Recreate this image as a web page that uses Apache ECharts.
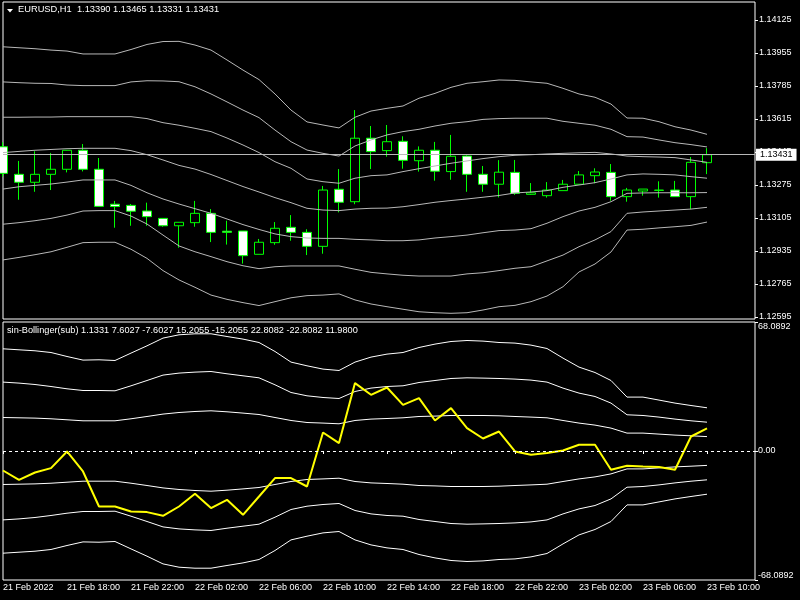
<!DOCTYPE html>
<html><head><meta charset="utf-8">
<script src="https://cdn.jsdelivr.net/npm/echarts@6/dist/echarts.min.js"></script>
<style>html,body{margin:0;padding:0;background:#000}#c{width:800px;height:600px}</style>
</head><body><div id="c"></div>
<script>
const categories = [
 '21 Feb 14:00','21 Feb 15:00','21 Feb 16:00','21 Feb 17:00','21 Feb 18:00','21 Feb 19:00','21 Feb 20:00','21 Feb 21:00','21 Feb 22:00','21 Feb 23:00',
 '22 Feb 00:00','22 Feb 01:00','22 Feb 02:00','22 Feb 03:00','22 Feb 04:00','22 Feb 05:00','22 Feb 06:00','22 Feb 07:00','22 Feb 08:00','22 Feb 09:00',
 '22 Feb 10:00','22 Feb 11:00','22 Feb 12:00','22 Feb 13:00','22 Feb 14:00','22 Feb 15:00','22 Feb 16:00','22 Feb 17:00','22 Feb 18:00','22 Feb 19:00',
 '22 Feb 20:00','22 Feb 21:00','22 Feb 22:00','22 Feb 23:00','23 Feb 00:00','23 Feb 01:00','23 Feb 02:00','23 Feb 03:00','23 Feb 04:00','23 Feb 05:00',
 '23 Feb 06:00','23 Feb 07:00','23 Feb 08:00','23 Feb 09:00','23 Feb 10:00','23 Feb 11:00','23 Feb 12:00','23 Feb 13:00'];
const firstTickLabel = '21 Feb 2022';

const opens  = [1.13472,1.13330,1.13289,1.13330,1.13356,1.13454,1.13356,1.13176,1.13170,1.13141,1.13103,1.13065,1.13081,1.13129,1.13037,1.13038,1.12918,1.12978,1.13057,1.13031,1.12959,1.13253,1.13189,1.13516,1.13452,1.13500,1.13400,1.13454,1.13344,1.13424,1.13330,1.13279,1.13340,1.13227,1.13220,1.13246,1.13279,1.13323,1.13340,1.13215,1.13244,1.13247,1.13249,1.13215,1.13390];
const closes = [1.13335,1.13289,1.13330,1.13356,1.13454,1.13356,1.13165,1.13164,1.13140,1.13112,1.13065,1.13083,1.13129,1.13031,1.13031,1.12911,1.12980,1.13052,1.13031,1.12959,1.13249,1.13186,1.13516,1.13447,1.13498,1.13402,1.13454,1.13346,1.13423,1.13330,1.13279,1.13341,1.13232,1.13235,1.13249,1.13279,1.13327,1.13342,1.13215,1.13249,1.13254,1.13249,1.13215,1.13392,1.13431];
const lows   = [1.13318,1.13199,1.13240,1.13249,1.13340,1.13345,1.13164,1.13055,1.13065,1.13065,1.13060,1.12952,1.13060,1.12981,1.12968,1.12870,1.12918,1.12967,1.12988,1.12914,1.12921,1.13134,1.13176,1.13357,1.13421,1.13359,1.13344,1.13297,1.13302,1.13240,1.13240,1.13211,1.13224,1.13224,1.13210,1.13246,1.13279,1.13284,1.13194,1.13189,1.13220,1.13210,1.13215,1.13151,1.13331];
const highs  = [1.13495,1.13399,1.13449,1.13440,1.13455,1.13486,1.13414,1.13193,1.13177,1.13184,1.13105,1.13084,1.13193,1.13151,1.13091,1.13038,1.12997,1.13084,1.13120,1.13047,1.13270,1.13357,1.13661,1.13579,1.13584,1.13526,1.13474,1.13497,1.13533,1.13428,1.13373,1.13403,1.13404,1.13285,1.13290,1.13301,1.13347,1.13361,1.13383,1.13260,1.13254,1.13294,1.13296,1.13419,1.13465];

const bbUpper3 = [1.13987,1.13982,1.13977,1.13970,1.13965,1.13950,1.13950,1.13950,1.13973,1.13999,1.14014,1.14015,1.13996,1.13970,1.13919,1.13867,1.13818,1.13744,1.13661,1.13600,1.13584,1.13569,1.13624,1.13656,1.13670,1.13682,1.13722,1.13747,1.13778,1.13799,1.13807,1.13816,1.13814,1.13806,1.13799,1.13773,1.13744,1.13727,1.13692,1.13620,1.13619,1.13601,1.13575,1.13558,1.13536];
const bbUpper2 = [1.13806,1.13802,1.13799,1.13798,1.13790,1.13787,1.13787,1.13787,1.13806,1.13812,1.13811,1.13807,1.13781,1.13744,1.13703,1.13661,1.13622,1.13558,1.13498,1.13455,1.13438,1.13424,1.13476,1.13507,1.13533,1.13550,1.13562,1.13579,1.13593,1.13601,1.13613,1.13617,1.13619,1.13619,1.13619,1.13603,1.13593,1.13583,1.13562,1.13524,1.13522,1.13507,1.13493,1.13483,1.13471];
const bbUpper1 = [1.13624,1.13624,1.13625,1.13625,1.13627,1.13627,1.13627,1.13627,1.13627,1.13617,1.13596,1.13583,1.13567,1.13550,1.13517,1.13481,1.13442,1.13395,1.13361,1.13306,1.13292,1.13284,1.13310,1.13323,1.13327,1.13344,1.13359,1.13373,1.13387,1.13399,1.13411,1.13421,1.13428,1.13431,1.13435,1.13438,1.13441,1.13443,1.13435,1.13424,1.13421,1.13419,1.13416,1.13404,1.13392];
const bbMid    = [1.13442,1.13448,1.13454,1.13458,1.13462,1.13464,1.13464,1.13464,1.13452,1.13431,1.13404,1.13376,1.13357,1.13329,1.13298,1.13267,1.13239,1.13210,1.13184,1.13155,1.13146,1.13143,1.13151,1.13155,1.13156,1.13163,1.13174,1.13186,1.13195,1.13203,1.13212,1.13221,1.13234,1.13239,1.13246,1.13263,1.13275,1.13287,1.13306,1.13327,1.13332,1.13330,1.13327,1.13318,1.13310];
const bbLower1 = [1.13254,1.13266,1.13273,1.13280,1.13290,1.13301,1.13301,1.13301,1.13273,1.13235,1.13203,1.13177,1.13153,1.13129,1.13100,1.13071,1.13046,1.13023,1.13009,1.13002,1.13000,1.13000,1.12995,1.12992,1.12988,1.12988,1.12992,1.13002,1.13009,1.13017,1.13029,1.13040,1.13043,1.13050,1.13078,1.13112,1.13141,1.13160,1.13189,1.13232,1.13234,1.13235,1.13235,1.13235,1.13236];
const bbLower2 = [1.13073,1.13081,1.13091,1.13103,1.13120,1.13141,1.13143,1.13143,1.13115,1.13074,1.13017,1.12961,1.12931,1.12906,1.12880,1.12859,1.12844,1.12854,1.12858,1.12858,1.12858,1.12858,1.12841,1.12825,1.12817,1.12810,1.12806,1.12806,1.12806,1.12817,1.12823,1.12834,1.12846,1.12854,1.12884,1.12914,1.12957,1.12992,1.13035,1.13129,1.13136,1.13141,1.13146,1.13151,1.13160];
const bbLower3 = [1.12889,1.12902,1.12916,1.12931,1.12954,1.12978,1.12980,1.12980,1.12944,1.12897,1.12834,1.12786,1.12748,1.12708,1.12686,1.12669,1.12654,1.12674,1.12694,1.12705,1.12708,1.12714,1.12683,1.12662,1.12648,1.12635,1.12622,1.12617,1.12614,1.12617,1.12631,1.12648,1.12655,1.12674,1.12703,1.12751,1.12827,1.12868,1.12930,1.13043,1.13047,1.13054,1.13060,1.13067,1.13084];

const subUpper3 = [53.94,53.41,52.89,51.99,49.88,47.98,48.14,47.77,51.67,55.52,59.59,61.33,61.86,61.86,60.43,59.06,57.27,52.52,46.92,44.97,43.23,42.49,46.92,49.56,51.14,51.99,54.63,56.42,57.79,58.32,58.01,57.27,56.95,55.89,54.10,49.03,44.28,41.43,37.21,28.45,28.45,26.87,25.28,24.01,22.81];
const subUpper2 = [36.37,35.84,35.10,34.04,32.83,31.93,31.93,31.77,34.41,37.21,40.06,41.12,41.64,41.96,40.75,39.69,38.63,34.94,30.88,29.13,28.24,27.71,31.40,33.20,34.04,34.41,36.15,37.21,38.27,38.63,38.48,38.27,37.95,37.42,36.37,33.20,30.56,28.77,25.28,19.11,18.74,17.89,16.84,15.94,15.21];
const subUpper1 = [17.68,17.52,17.36,17.00,16.47,15.94,15.94,15.94,17.00,18.21,19.48,20.32,20.85,21.22,20.69,20.00,19.26,17.68,16.10,15.04,14.73,14.36,16.10,16.84,17.15,17.52,18.21,18.42,18.74,18.74,18.74,18.58,18.21,17.89,17.52,16.10,14.73,13.67,12.09,9.45,9.45,8.92,8.39,8.02,7.60];
const subLower1 = [-17.68,-17.52,-17.36,-17.00,-16.47,-15.94,-15.94,-15.94,-17.00,-18.21,-19.48,-20.32,-20.85,-21.22,-20.69,-20.00,-19.26,-17.68,-16.10,-15.04,-14.73,-14.36,-16.10,-16.84,-17.15,-17.52,-18.21,-18.42,-18.74,-18.74,-18.74,-18.58,-18.21,-17.89,-17.52,-16.10,-14.73,-13.67,-12.09,-9.45,-9.45,-8.92,-8.39,-8.02,-7.60];
const subLower2 = [-36.37,-35.84,-35.10,-34.04,-32.83,-31.93,-31.93,-31.77,-34.41,-37.21,-40.06,-41.12,-41.64,-41.96,-40.75,-39.69,-38.63,-34.94,-30.88,-29.13,-28.24,-27.71,-31.40,-33.20,-34.04,-34.41,-36.15,-37.21,-38.27,-38.63,-38.48,-38.27,-37.95,-37.42,-36.37,-33.20,-30.56,-28.77,-25.28,-19.11,-18.74,-17.89,-16.84,-15.94,-15.21];
const subLower3 = [-53.94,-53.41,-52.89,-51.99,-49.88,-47.98,-48.14,-47.77,-51.67,-55.52,-59.59,-61.33,-61.86,-61.86,-60.43,-59.06,-57.27,-52.52,-46.92,-44.97,-43.23,-42.49,-46.92,-49.56,-51.14,-51.99,-54.63,-56.42,-57.79,-58.32,-58.01,-57.27,-56.95,-55.89,-54.10,-49.03,-44.28,-41.43,-37.21,-28.45,-28.45,-26.87,-25.28,-24.01,-22.81];
const subMain = [-10.29,-15.20,-11.35,-9.03,-0.26,-10.82,-29.29,-29.29,-31.93,-32.25,-34.20,-29.29,-22.59,-30.14,-25.76,-33.67,-24.01,-14.30,-14.30,-18.74,9.76,4.17,35.84,29.66,33.52,24.38,27.92,16.10,22.64,12.09,6.60,10.29,-0.26,-2.01,-1.11,0.26,3.27,3.27,-9.92,-7.81,-8.18,-8.50,-9.92,7.65,11.98];

const priceTicks = [1.12595,1.12765,1.12935,1.13105,1.13275,1.13445,1.13615,1.13785,1.13955,1.14125];
const priceMin = 1.125847, priceMax = 1.142177;
const subTicks = [-68.0892, 0, 68.0892];
const lastPrice = 1.13431;
const mainTitle = 'EURUSD,H1  1.13390 1.13465 1.13331 1.13431';
const subTitle = 'sin-Bollinger(sub) 1.1331 7.6027 -7.6027 15.2055 -15.2055 22.8082 -22.8082 11.9800';

const FONT = "'Liberation Sans', Arial, sans-serif";
const chart = echarts.init(document.getElementById('c'), null, {renderer: 'canvas'});

const candleData = opens.map((o, i) => [o, closes[i], lows[i], highs[i]]);
function mainLine(name, data) {
  return {name, type: 'line', xAxisIndex: 0, yAxisIndex: 0, data, symbol: 'none', silent: true,
    lineStyle: {color: '#b8b8b8', width: 1}, z: 3};
}
function subLine(name, data) {
  return {name, type: 'line', xAxisIndex: 1, yAxisIndex: 1, data, symbol: 'none', silent: true,
    lineStyle: {color: '#ffffff', width: 1}, z: 3};
}

const option = {
  backgroundColor: '#000000',
  animation: false,
  title: [
    {text: mainTitle, left: 18, top: 5, padding: 0, textStyle: {color: '#fff', fontSize: 9.3, fontWeight: 'normal', fontFamily: FONT}},
    {text: subTitle, left: 7, top: 326, padding: 0, textStyle: {color: '#fff', fontSize: 9.2, fontWeight: 'normal', fontFamily: FONT}}
  ],
  graphic: [{type: 'polygon', shape: {points: [[7, 9], [13, 9], [10, 12.5]]}, style: {fill: '#fff'}}],
  grid: [
    {left: 3, top: 2, width: 752, height: 317, show: true, borderColor: '#fff', borderWidth: 1, backgroundColor: 'transparent'},
    {left: 3, top: 322, width: 752, height: 258, show: true, borderColor: '#fff', borderWidth: 1, backgroundColor: 'transparent'}
  ],
  xAxis: [
    {type: 'category', gridIndex: 0, data: categories, boundaryGap: false, show: false},
    {type: 'category', gridIndex: 1, data: categories, boundaryGap: false,
     axisLine: {show: false},
     axisTick: {show: true, interval: 3, length: 3, lineStyle: {color: '#fff'}},
     axisLabel: {interval: 3, color: '#fff', fontSize: 9, fontFamily: FONT, align: 'left', margin: 3,
       formatter: (v, i) => i === 0 ? firstTickLabel : v},
     splitLine: {show: false}}
  ],
  yAxis: [
    {type: 'value', gridIndex: 0, position: 'right', min: priceMin, max: priceMax, scale: true,
     axisLine: {show: false}, splitLine: {show: false},
     axisTick: {show: true, length: 3, customValues: priceTicks, lineStyle: {color: '#fff'}},
     axisLabel: {customValues: priceTicks, color: '#fff', fontSize: 9, fontFamily: FONT, margin: 4,
       formatter: v => v.toFixed(5)}},
    {type: 'value', gridIndex: 1, position: 'right', min: -68.0892, max: 68.0892,
     axisLine: {show: false}, splitLine: {show: false},
     axisTick: {show: true, length: 3, customValues: subTicks, lineStyle: {color: '#fff'}},
     axisLabel: {customValues: subTicks, color: '#fff', fontSize: 9, fontFamily: FONT, margin: 3,
       verticalAlignMaxLabel: 'top', verticalAlignMinLabel: 'bottom',
       formatter: v => v === 0 ? '0.00' : v.toFixed(4)}}
  ],
  series: [
    {name: 'EURUSD', type: 'candlestick', xAxisIndex: 0, yAxisIndex: 0, data: candleData, barWidth: 10, silent: true, z: 2,
     itemStyle: {color: '#000000', color0: '#ffffff', borderColor: '#00ff00', borderColor0: '#00ff00', borderWidth: 1}},
    mainLine('bbUpper3', bbUpper3),
    mainLine('bbUpper2', bbUpper2),
    mainLine('bbUpper1', bbUpper1),
    mainLine('bbMid', bbMid),
    mainLine('bbLower1', bbLower1),
    mainLine('bbLower2', bbLower2),
    Object.assign(mainLine('bbLower3', bbLower3), {
      markLine: {symbol: 'none', silent: true, animation: false, precision: 5,
        lineStyle: {color: '#b8b8b8', type: 'solid', width: 1},
        label: {show: true, position: 'end', distance: 1, formatter: lastPrice.toFixed(5), color: '#000',
          backgroundColor: '#fff', padding: [2, 4, 1, 4], fontSize: 9, fontFamily: FONT},
        data: [{yAxis: lastPrice}]}
    }),
    subLine('subUpper3', subUpper3),
    subLine('subUpper2', subUpper2),
    subLine('subUpper1', subUpper1),
    subLine('subLower1', subLower1),
    subLine('subLower2', subLower2),
    subLine('subLower3', subLower3),
    {name: 'sin-Bollinger', type: 'line', xAxisIndex: 1, yAxisIndex: 1, data: subMain, symbol: 'none', silent: true,
     lineStyle: {color: '#ffff00', width: 2}, z: 4,
     markLine: {symbol: 'none', silent: true, animation: false, precision: 4,
       lineStyle: {color: '#ffffff', type: [3, 3], width: 1}, label: {show: false},
       data: [{yAxis: 0}]}}
  ]
};
chart.setOption(option);
</script></body></html>
